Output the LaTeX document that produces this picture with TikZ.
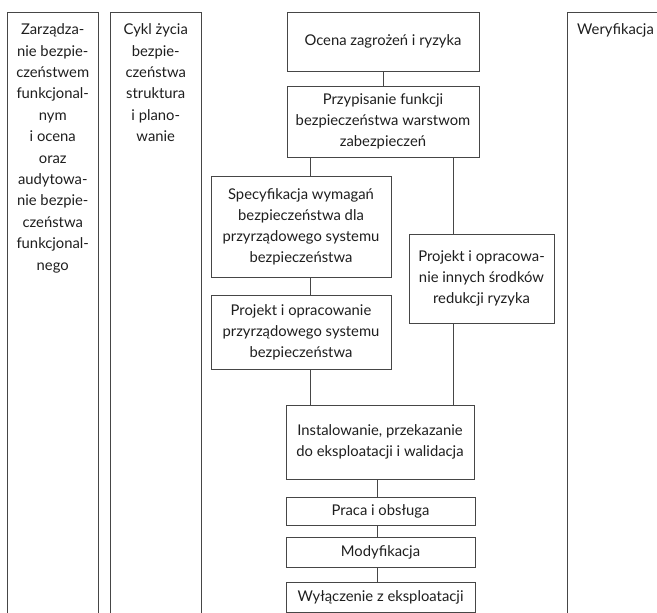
\documentclass[tikz,border=0pt]{standalone}
\usepackage{fontspec}
\setmainfont{Lato}
\usetikzlibrary{positioning,calc}
\definecolor{linegray}{RGB}{70,70,70}
\definecolor{textgray}{RGB}{30,30,30}

\begin{document}
\begin{tikzpicture}[x=1pt, y=-1pt,
    frame/.style={draw=linegray, line width=0.9pt},
    box/.style={draw=linegray, line width=0.9pt, inner sep=0pt, align=center,
        text=textgray, font=\fontsize{14.8}{21}\selectfont},
    coltext/.style={inner sep=0pt, align=center, text=textgray,
        font=\fontsize{14.8}{21.4}\selectfont}]
    \useasboundingbox (0,0) rectangle (657,613);

    % Columns (open at the bottom)
    \draw[frame] (7,613) -- (7,12.7) -- (98.5,12.7) -- (98.5,613);
    \draw[frame] (110,613) -- (110,12.7) -- (201.5,12.7) -- (201.5,613);
    \draw[frame] (567.5,613) -- (567.5,12.7) -- (660,12.7);

    % Column headings
    \node[coltext, anchor=north] (zarz) at (52.75,23.5)
        {Zarządza-\\nie bezpie-\\czeństwem\\funkcjonal-\\nym\\i ocena\\oraz\\audytowa-\\nie bezpie-\\czeństwa\\funkcjonal-\\nego};
    \node[coltext, anchor=north] (cykl) at (155.75,23.5)
        {Cykl życia\\bezpie-\\czeństwa\\struktura\\i plano-\\wanie};
    \node[coltext, anchor=north west] (wer) at (577,23.5) {Weryfikacja};

    % Lifecycle phases
    \node[box, minimum width=192, minimum height=59] (ocena) at (383,41.5)
        {Ocena zagrożeń i ryzyka};
    \node[box, minimum width=192, minimum height=71] (przyp) at (383,121.5)
        {Przypisanie funkcji\\bezpieczeństwa warstwom\\zabezpieczeń};
    \node[box, minimum width=180, minimum height=101] (spec) at (301,226.5)
        {Specyfikacja wymagań\\bezpieczeństwa dla\\przyrządowego systemu\\bezpieczeństwa};
    \node[box, minimum width=180, minimum height=74] (proj) at (301,332)
        {Projekt i opracowanie\\przyrządowego systemu\\bezpieczeństwa};
    \node[box, minimum width=145, minimum height=89] (inne) at (481.5,278.5)
        {Projekt i opracowa-\\nie innych środków\\redukcji ryzyka};
    \node[box, minimum width=188, minimum height=74] (inst) at (380,442)
        {Instalowanie, przekazanie\\do eksploatacji i walidacja};
    \node[box, minimum width=189, minimum height=28] (praca) at (380.5,511)
        {Praca i obsługa};
    \node[box, minimum width=189, minimum height=30] (modyf) at (380.5,552)
        {Modyfikacja};
    \node[box, minimum width=189, minimum height=29.5] (wyl) at (380.5,597.5)
        {Wyłączenie z eksploatacji};

    % Connections
    \draw[frame] (ocena) -- (przyp);
    \draw[frame] ([xshift=9]spec.north) -- ([xshift=9]spec.north |- przyp.south);
    \draw[frame] ([xshift=9]spec.south) -- ([xshift=9]proj.north);
    \draw[frame] ([xshift=9]proj.south) -- ([xshift=9]proj.south |- inst.north);
    \draw[frame] ([xshift=-28.5]inne.north) -- ([xshift=-28.5]inne.north |- przyp.south);
    \draw[frame] ([xshift=-28.5]inne.south) -- ([xshift=-28.5]inne.south |- inst.north);
    \draw[frame] ([xshift=-3.5]praca.north) -- ([xshift=-3.5]praca.north |- inst.south);
    \draw[frame] ([xshift=-3.5]praca.south) -- ([xshift=-3.5]modyf.north);
    \draw[frame] ([xshift=-3.5]modyf.south) -- ([xshift=-3.5]wyl.north);
\end{tikzpicture}
\end{document}
